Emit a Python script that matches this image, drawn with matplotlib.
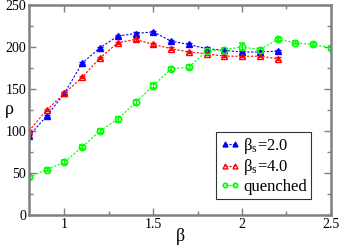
import numpy as np
import matplotlib.pyplot as plt
from matplotlib.lines import Line2D

plt.rcParams['font.family'] = ['Liberation Serif', 'DejaVu Serif']
plt.rcParams['mathtext.fontset'] = 'stix'

beta = [0.8, 0.9, 1.0, 1.1, 1.2, 1.3, 1.4, 1.5, 1.6, 1.7, 1.8, 1.9, 2.0, 2.1, 2.2]
rho_bs2 = [94, 118, 145, 181, 199, 213, 216, 218, 207, 203, 198, 196, 194, 194, 195]
rho_bs4 = [100, 125, 145, 164, 187, 205, 209, 203, 198, 194, 192, 189, 189, 189, 186]

beta_q = [0.8, 0.9, 1.0, 1.1, 1.2, 1.3, 1.4, 1.5, 1.6, 1.7, 1.8, 1.9, 2.0, 2.1, 2.2, 2.3, 2.4, 2.5]
rho_q = [45, 54, 63, 81, 100, 114, 134, 154, 174, 176, 195, 197, 200, 197, 209, 205, 203, 199]
err_q = [2, 2, 2, 2, 2, 3, 3, 3, 2, 2, 2, 2, 5, 2, 2, 2, 2, 2]

fig = plt.figure(figsize=(3.39, 2.49), dpi=100)
ax = fig.add_axes([0.0855, 0.1365, 0.8905, 0.8435])

styles = [
    dict(color='blue', marker='^', ms=5, mfc='blue'),
    dict(color='red', marker='^', ms=5, mfc='none', mew=1.0),
    dict(color='#00ff00', marker='o', ms=4.5, mfc='none', mew=1.2),
]
common = dict(ls='--', dashes=(2, 1.5), lw=0.8)

ax.errorbar(beta, rho_bs2, yerr=1.5, capsize=2, elinewidth=0.8, **styles[0], **common)
ax.errorbar(beta, rho_bs4, yerr=1.5, capsize=2, elinewidth=0.8, **styles[1], **common)
ax.errorbar(beta_q, rho_q, yerr=err_q, capsize=2, elinewidth=0.8, **styles[2], **common)

ax.set_xlim(0.8, 2.5)
ax.set_ylim(0, 250)
ax.set_xticks([1, 1.5, 2, 2.5])
ax.set_xticklabels(['1', '1.5', '2', '2.5'])
ax.set_xticks([1.25, 1.75, 2.25], minor=True)
ax.set_yticks([0, 50, 100, 150, 200, 250])
ax.set_yticks([25, 75, 125, 175, 225], minor=True)

for s in ax.spines.values():
    s.set_color('#808080')
    s.set_linewidth(1.8)
ax.tick_params(which='both', direction='in', top=True, right=True, color='#808080',
               labelsize=10, pad=2)
ax.tick_params(which='major', length=5, width=1)
ax.tick_params(which='minor', length=3, width=1)

fig.text(180 / 339, 1 - 236 / 249, 'β', fontsize=13, ha='center', va='center')
fig.text(9 / 339, 1 - 109 / 249, 'ρ', fontsize=13, ha='center', va='center')

handles = [Line2D([], [], **st, **common) for st in styles]
labels = ['β$_\\mathregular{s}$=2.0', 'β$_\\mathregular{s}$=4.0', 'quenched']
leg = ax.legend(handles, labels, loc='lower right', bbox_to_anchor=(0.935, 0.075),
                fontsize=12, numpoints=2, markerscale=0.7, frameon=True,
                fancybox=False, handlelength=1.2, handletextpad=0.2,
                borderpad=0.25, labelspacing=0.1, borderaxespad=0)
leg.get_frame().set_edgecolor('black')
leg.get_frame().set_linewidth(0.8)

fig.savefig('out.png', dpi=100)
